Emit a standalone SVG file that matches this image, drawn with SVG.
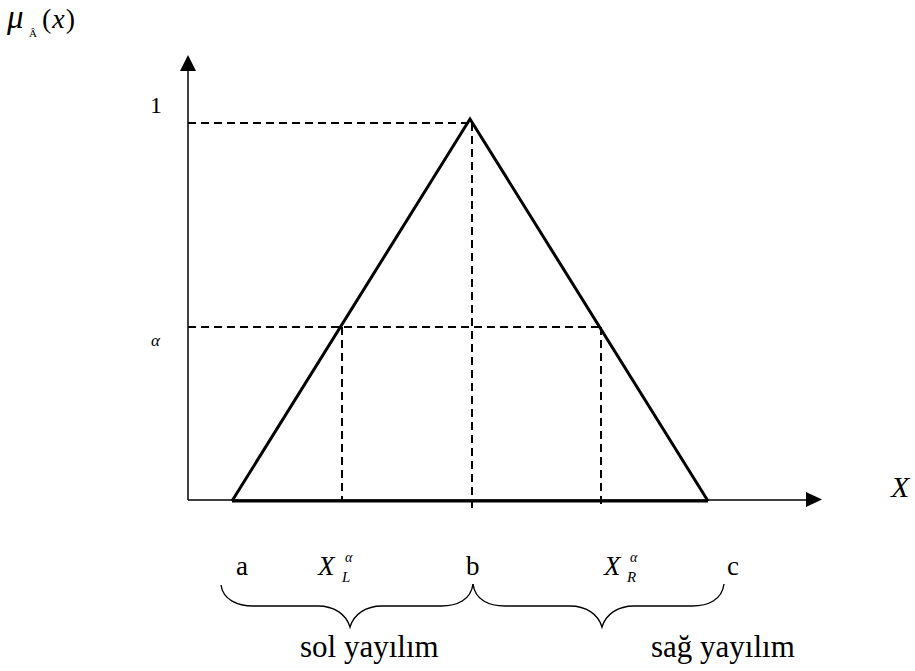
<svg xmlns="http://www.w3.org/2000/svg" width="915" height="671" viewBox="0 0 915 671">
<defs>
<style>
text{font-family:'Liberation Serif','Times New Roman',serif;fill:#000}
.i{font-style:italic}
.axis{stroke:#000;stroke-width:1.5;fill:none}
.tri{stroke:#000;stroke-width:3;fill:none;stroke-linejoin:miter}
.dash{stroke:#000;stroke-width:2;stroke-dasharray:8,5;fill:none}
.brace{stroke:#000;stroke-width:1.4;fill:none}
</style>
</defs>
<rect width="915" height="671" fill="#fff"/>
<g id="connectors">
<line class="axis" x1="188" y1="500" x2="188" y2="66"/>
<polygon points="188,55 180,71 196,71" fill="#000"/>
<line class="axis" x1="188" y1="500" x2="810" y2="500"/>
<polygon points="822,499.5 806,492 806,507" fill="#000"/>
<line class="dash" x1="188" y1="123" x2="470" y2="123"/>
<line class="dash" x1="472" y1="123" x2="472" y2="508"/>
<line class="dash" x1="188" y1="327" x2="601" y2="327"/>
<line class="dash" x1="342" y1="327" x2="342" y2="500"/>
<line class="dash" x1="601" y1="327" x2="601" y2="505"/>
</g>
<g id="triangle">
<polyline class="tri" points="232,501 470,119 708,501"/>
<line class="tri" x1="232" y1="501" x2="708" y2="501"/>
</g>
<g id="braces">
<path class="brace" d="M221,585 C223,600 238,606 253,606 L318,606 C334,606 346,614 350,627 C354,614 366,606 382,606 L441,606 C457,606 471,600 473,584"/>
<path class="brace" d="M473,584 C475,600 489,606 505,606 L570,606 C586,606 598,614 602,627 C606,614 618,606 634,606 L692,606 C708,606 722,600 724,584"/>
</g>
<g id="ylabel">
<text class="i" x="7" y="28" font-size="33">μ</text>
<text x="29" y="37" font-size="11">Â</text>
<text x="42" y="28" font-size="28" letter-spacing="1">(<tspan class="i">x</tspan>)</text>
</g>
<g id="labels">
<text x="150" y="113" font-size="24">1</text>
<text class="i" x="151" y="346" font-size="17">α</text>
<text class="i" x="891" y="497" font-size="30">X</text>
<text x="236" y="575" font-size="27">a</text>
<text class="i" x="318" y="575" font-size="27">X</text>
<text class="i" x="342" y="582" font-size="15">L</text>
<text class="i" x="345" y="562" font-size="14">α</text>
<text x="466" y="575" font-size="27">b</text>
<text class="i" x="604" y="575" font-size="27">X</text>
<text class="i" x="627" y="582" font-size="15">R</text>
<text class="i" x="630" y="562" font-size="14">α</text>
<text x="727" y="575" font-size="27">c</text>
<text x="300" y="657" font-size="31">sol yayılım</text>
<text x="651" y="657" font-size="31">sağ yayılım</text>
</g>
</svg>
